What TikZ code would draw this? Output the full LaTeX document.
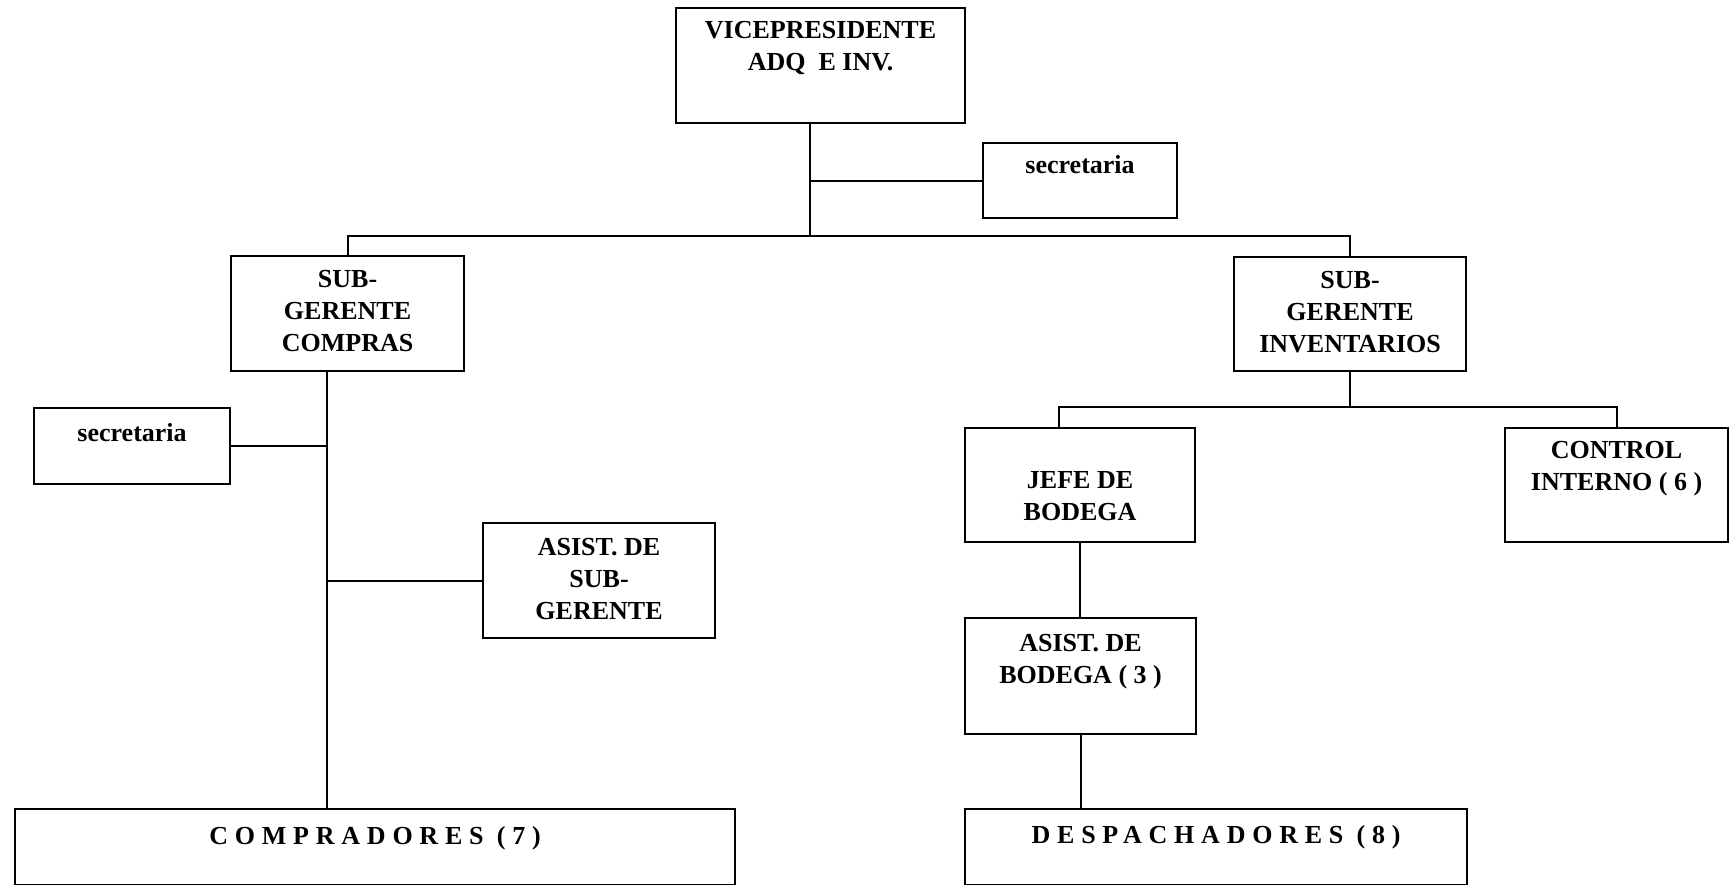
\documentclass[tikz,border=0pt]{standalone}
\usepackage{fontspec}
\setmainfont{Liberation Serif}
\usepackage{tikz}
\usetikzlibrary{positioning}

\begin{document}
\begin{tikzpicture}[x=0.02cm, y=-0.02cm]
			\tikzstyle{Box}		= [rectangle, draw, line width=1.2pt, anchor=north west, inner sep=0pt]
			\tikzstyle{Caption}	= [anchor=north, align=center, inner sep=0pt, font=\bfseries\fontsize{14.8}{18.2}\selectfont]
			\tikzstyle{Link}	= [line width=1.15pt]
			\tikzstyle{Spaced}	= [font=\bfseries\fontsize{14.8}{18.2}\selectfont\addfontfeature{LetterSpace=26}]

			\path [use as bounding box, fill=white] (0, 0) rectangle (1733, 885);

			% boxes: name/left/top/width/height/text offset/text
			\foreach \n/\x/\y/\w/\h/\o/\txt in {
					vp/675/7/289/115/14/{VICEPRESIDENTE\\ADQ\ \ E INV.},
					sec1/982/142/194/75/13/{secretaria},
					comp/230/255/233/115/15/{SUB-\\GERENTE\\COMPRAS},
					inv/1233/256/232/114/15/{SUB-\\GERENTE\\INVENTARIOS},
					sec2/33/407/196/76/16/{secretaria},
					asis/482/522/232/115/16/{ASIST. DE\\SUB-\\GERENTE},
					jefe/964/427/230/114/44/{JEFE DE\\BODEGA},
					ctrl/1504/427/223/114/14/{CONTROL\\INTERNO ( 6 )},
					asbo/964/617/231/116/17/{ASIST. DE\\BODEGA ( 3 )}}
				\node (\n) at (\x, \y) [Box, minimum width=\w*0.02cm, minimum height=\h*0.02cm,
					label={[Caption, yshift=-\o*0.02cm]north:\txt}] {};
			\foreach \n/\x/\y/\w/\h/\o/\txt in {
					cmpr/14/808/720/76/18/{COMPRADORES (7)},
					desp/964/808/502/76/17/{DESPACHADORES (8)}}
				\node (\n) at (\x, \y) [Box, minimum width=\w*0.02cm, minimum height=\h*0.02cm,
					label={[Caption, Spaced, yshift=-\o*0.02cm]north:\txt}] {};

			% junctions
			\coordinate (t1) at (810, 236);
			\coordinate (t2) at (327, 808);
			\coordinate (t3) at (1349, 407);
			\coordinate (t4) at (1059, 407);

			\draw (t1 |- vp.south) -- (t1) [Link];
			\draw (t1 |- sec1.west) -- (sec1.west) [Link];
			\draw (comp.north) -- (comp.north |- t1) -- (inv.north |- t1) -- (inv.north) [Link];

			\draw (t2 |- comp.south) -- (t2) [Link];
			\draw (sec2.east) -- (sec2.east -| t2) [Link];
			\draw (asis.west) -- (asis.west -| t2) [Link];

			\draw (inv.south) -- (inv.south |- t3) [Link];
			\draw (t4 |- jefe.north) -- (t4) -- (t4 -| ctrl.north) -- (ctrl.north) [Link];
			\draw (jefe.south) -- (jefe.south |- asbo.north) [Link];
			\draw (asbo.south) -- (asbo.south |- desp.north) [Link];
		\end{tikzpicture}
\end{document}
